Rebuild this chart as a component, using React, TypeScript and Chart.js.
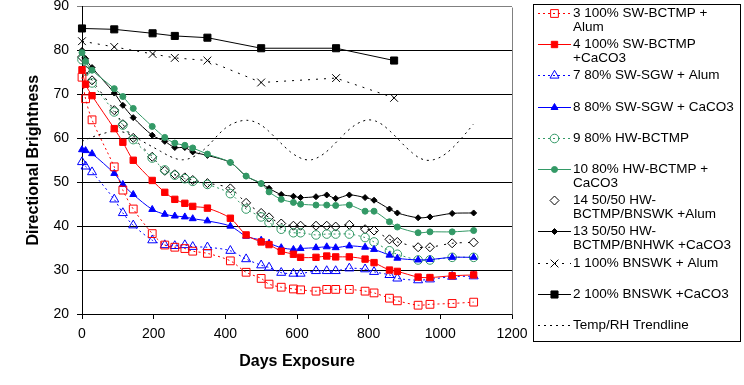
import React, { useEffect, useRef } from 'react';
import { Chart, registerables } from 'chart.js';

Chart.register(...registerables);

// Shared exposure days for the 8 pulp series
const days = [0, 10, 28, 90, 114, 143, 196, 231, 259, 287, 309, 350, 414, 458, 500, 522, 556, 590, 610, 653, 683, 708, 746, 790, 815, 858, 880, 938, 971, 1033, 1093];

const s3 = [73.9, 69.0, 64.2, 53.5, 48.2, 43.9, 38.3, 35.7, 35.2, 34.9, 34.3, 33.8, 32.1, 29.5, 28.1, 26.8, 26.1, 25.7, 25.5, 25.2, 25.6, 25.6, 25.6, 25.2, 24.8, 23.6, 23.0, 22.0, 22.2, 22.4, 22.7];
const s4 = [75.6, 72.3, 69.7, 62.2, 59.1, 55.0, 50.4, 47.7, 46.1, 45.2, 44.5, 44.1, 41.8, 38.0, 36.4, 35.8, 34.3, 33.6, 32.9, 32.9, 33.2, 33.0, 33.0, 32.5, 31.7, 30.0, 29.7, 28.4, 28.3, 28.7, 28.9];
const s7 = [54.6, 53.6, 52.3, 46.1, 43.0, 40.2, 36.8, 35.7, 35.5, 35.7, 35.3, 35.2, 34.4, 32.5, 31.1, 30.6, 29.4, 29.2, 29.2, 29.8, 29.8, 29.8, 30.4, 30.2, 29.6, 28.9, 28.1, 27.7, 27.9, 28.5, 28.6];
const s8 = [57.4, 57.2, 56.5, 52.0, 49.5, 47.2, 43.8, 42.7, 42.3, 42.1, 41.7, 41.2, 40.0, 37.7, 36.8, 36.1, 35.1, 34.7, 34.9, 35.1, 35.3, 35.1, 35.5, 35.2, 34.7, 33.4, 32.7, 32.3, 32.4, 32.9, 32.9];
const s9 = [77.9, 75.3, 72.6, 66.0, 63.0, 59.7, 55.5, 52.8, 51.6, 50.8, 50.2, 49.5, 47.4, 43.9, 42.1, 40.8, 39.3, 38.5, 38.5, 38.0, 38.2, 38.2, 38.2, 37.4, 36.4, 34.4, 33.6, 32.3, 32.3, 32.9, 32.9];
const s10 = [79.5, 77.5, 75.5, 71.3, 69.5, 66.8, 62.7, 60.2, 58.9, 58.4, 57.8, 56.4, 54.5, 51.4, 49.7, 47.8, 46.1, 45.4, 45.0, 44.8, 44.8, 44.7, 44.8, 43.4, 43.4, 41.0, 39.8, 38.5, 38.7, 38.7, 39.0];
const s14 = [78.5, 75.5, 73.2, 66.4, 63.2, 60.1, 55.8, 52.6, 51.8, 51.1, 50.5, 49.8, 48.6, 45.3, 43.0, 42.0, 40.6, 40.1, 40.1, 40.1, 40.1, 39.9, 40.3, 39.3, 39.0, 37.0, 36.4, 35.2, 35.2, 36.1, 36.3];
const s13 = [80.0, 78.1, 76.1, 70.3, 67.5, 64.7, 60.7, 59.3, 57.9, 57.9, 56.9, 56.1, 54.5, 51.4, 49.7, 48.6, 47.2, 46.8, 46.5, 46.7, 47.1, 46.3, 47.1, 46.5, 45.9, 43.9, 43.0, 41.9, 42.1, 42.9, 43.0];

// BNSWK series
const daysBN = [0, 90, 197, 259, 350, 500, 709, 871];
const s1 = [82.1, 80.8, 79.2, 78.3, 77.7, 72.7, 73.7, 69.2];
const s2 = [85.0, 84.8, 83.9, 83.3, 82.9, 80.5, 80.5, 77.7];

// Temp/RH trendline
const trendDays = [0, 20, 40, 60, 80, 100, 120, 140, 160, 180, 200, 220, 240, 260, 280, 300, 320, 340, 360, 380, 400, 420, 440, 460, 480, 500, 520, 540, 560, 580, 600, 620, 640, 660, 680, 700, 720, 740, 760, 780, 800, 820, 840, 860, 880, 900, 920, 940, 960, 980, 1000, 1020, 1040, 1060, 1080, 1092];
const trendVals = [59.3, 60.0, 60.6, 61.1, 61.5, 61.6, 61.3, 60.6, 59.7, 58.8, 57.9, 57.0, 56.1, 55.4, 55.1, 55.4, 56.2, 57.4, 59.0, 60.8, 62.3, 63.3, 63.9, 64.1, 63.8, 63.0, 61.7, 60.1, 58.5, 57.0, 55.9, 55.2, 55.1, 55.7, 56.8, 58.3, 60.0, 61.6, 62.9, 63.8, 64.2, 63.9, 63.0, 61.6, 60.0, 58.3, 56.8, 55.6, 55.0, 55.1, 55.7, 56.8, 58.3, 60.1, 62.0, 63.2];

const legendLabels = [
  ['3 100% SW-BCTMP +', 'Alum'],
  ['4 100% SW-BCTMP', '+CaCO3'],
  ['7 80% SW-SGW + Alum'],
  ['8 80% SW-SGW + CaCO3'],
  ['9 80% HW-BCTMP'],
  ['10 80% HW-BCTMP +', 'CaCO3'],
  ['14 50/50 HW-', 'BCTMP/BNSWK +Alum'],
  ['13 50/50 HW-', 'BCTMP/BNHWK +CaCO3'],
  ['1 100% BNSWK + Alum'],
  ['2 100% BNSWK +CaCO3'],
  ['Temp/RH Trendline'],
];

const RED = '#FF0000';
const BLUE = '#0000FF';
const GREEN = '#339966';
const BLACK = '#000000';
const NONE = 'rgba(0,0,0,0)';
const FONT = '"Liberation Sans", Arial, sans-serif';

const pts = (xs: number[], ys: number[]) => xs.map((x, i) => ({ x, y: ys[i] }));

function drawMarker(ctx: CanvasRenderingContext2D, style: string, r: number, x: number, y: number, fill: string, stroke: string) {
  if (!style || r <= 0) return;
  ctx.beginPath();
  switch (style) {
    case 'rect': {
      const s = Math.SQRT1_2 * r;
      ctx.rect(x - s, y - s, 2 * s, 2 * s);
      break;
    }
    case 'triangle':
      ctx.moveTo(x, y - r);
      ctx.lineTo(x + 0.866 * r, y + 0.5 * r);
      ctx.lineTo(x - 0.866 * r, y + 0.5 * r);
      ctx.closePath();
      break;
    case 'circle':
      ctx.arc(x, y, r, 0, Math.PI * 2);
      break;
    case 'rectRot':
      ctx.moveTo(x - r, y);
      ctx.lineTo(x, y - r);
      ctx.lineTo(x + r, y);
      ctx.lineTo(x, y + r);
      ctx.closePath();
      break;
    case 'crossRot': {
      const s = Math.SQRT1_2 * r;
      ctx.moveTo(x - s, y - s);
      ctx.lineTo(x + s, y + s);
      ctx.moveTo(x + s, y - s);
      ctx.lineTo(x - s, y + s);
      break;
    }
  }
  if (style !== 'crossRot') {
    ctx.fillStyle = fill;
    ctx.fill();
  }
  ctx.setLineDash([]);
  ctx.strokeStyle = stroke;
  ctx.lineWidth = 1;
  ctx.stroke();
}

const frameAndLegend = {
  id: 'frameAndLegend',
  afterDatasetsDraw(chart: any) {
    const { ctx, chartArea } = chart;
    ctx.save();
    ctx.strokeStyle = '#808080';
    ctx.lineWidth = 1;
    ctx.beginPath();
    const rx = Math.round(chartArea.right) + 0.5;
    ctx.moveTo(rx, Math.round(chartArea.top) + 0.5);
    ctx.lineTo(rx, Math.round(chartArea.bottom) + 0.5);
    ctx.stroke();
    ctx.restore();
  },
  afterDraw(chart: any) {
    const ctx: CanvasRenderingContext2D = chart.ctx;
    ctx.save();
    ctx.setLineDash([]);
    ctx.strokeStyle = BLACK;
    ctx.lineWidth = 1;
    ctx.strokeRect(533.5, 4.5, 207, 337);
    ctx.font = '13.5px ' + FONT;
    ctx.textBaseline = 'middle';
    ctx.textAlign = 'left';
    chart.data.datasets.forEach((ds: any, i: number) => {
      const y = Math.round(13 + i * 31.2) + 0.5;
      if (ds.legendLine !== false) {
        ctx.beginPath();
        ctx.setLineDash(ds.borderDash || []);
        ctx.strokeStyle = ds.borderColor;
        ctx.lineWidth = 1;
        ctx.moveTo(538, y);
        ctx.lineTo(571, y);
        ctx.stroke();
      }
      drawMarker(ctx, ds.pointStyle, ds.pointRadius, 554.5, y, ds.pointBackgroundColor, ds.pointBorderColor);
      ctx.fillStyle = BLACK;
      (ds.legendText as string[]).forEach((t, j) => ctx.fillText(t, 573, y + j * 13.5));
    });
    ctx.restore();
  },
};

function makeSet(label: string[], data: any[], color: string, dash: number[], style: string, radius: number, filled: boolean, tension: number, extra: any = {}) {
  return {
    label: label.join(' '),
    legendText: label,
    data,
    borderColor: color,
    borderWidth: 1,
    borderDash: dash,
    pointStyle: style,
    pointRadius: radius,
    pointHoverRadius: radius,
    pointBorderWidth: 1,
    pointBorderColor: color,
    pointBackgroundColor: filled ? color : NONE,
    backgroundColor: NONE,
    fill: false,
    tension,
    clip: false,
    ...extra,
  };
}

export default function App() {
  const ref = useRef<HTMLCanvasElement | null>(null);

  useEffect(() => {
    document.body.style.margin = '0';
    if (!ref.current) return;
    const datasets = [
      makeSet(legendLabels[0], pts(days, s3), RED, [2, 3], 'rect', 5.5, false, 0.3),
      makeSet(legendLabels[1], pts(days, s4), RED, [], 'rect', 4.5, true, 0.3),
      makeSet(legendLabels[2], pts(days, s7), BLUE, [2, 3], 'triangle', 5.2, false, 0.3),
      makeSet(legendLabels[3], pts(days, s8), BLUE, [], 'triangle', 4, true, 0.3),
      makeSet(legendLabels[4], pts(days, s9), GREEN, [2, 3], 'circle', 4.3, false, 0.3),
      makeSet(legendLabels[5], pts(days, s10), GREEN, [], 'circle', 3, true, 0.3),
      makeSet(legendLabels[6], pts(days, s14), BLACK, [2, 6], 'rectRot', 4.5, false, 0.3, { legendLine: false }),
      makeSet(legendLabels[7], pts(days, s13), BLACK, [], 'rectRot', 3, true, 0.3),
      makeSet(legendLabels[8], pts(daysBN, s1), BLACK, [2, 6], 'crossRot', 5.5, false, 0),
      makeSet(legendLabels[9], pts(daysBN, s2), BLACK, [], 'rect', 5, true, 0),
      makeSet(legendLabels[10], pts(trendDays, trendVals), BLACK, [2, 4], 'circle', 0, false, 0.3),
    ];

    const chart = new Chart(ref.current, {
      type: 'line',
      data: { datasets },
      plugins: [frameAndLegend],
      options: {
        responsive: false,
        animation: false,
        devicePixelRatio: 1,
        events: [],
        layout: { padding: { left: 0, top: 6, right: 232, bottom: 0 } },
        plugins: {
          legend: { display: false },
          tooltip: { enabled: false },
        },
        scales: {
          x: {
            type: 'linear',
            min: 0,
            max: 1200,
            ticks: {
              stepSize: 200,
              color: BLACK,
              padding: 7,
              font: { family: FONT, size: 14 },
              callback: (v: any) => String(v),
            },
            grid: { drawOnChartArea: false, drawTicks: true, tickLength: 5, color: BLACK, lineWidth: 1 },
            border: { color: BLACK, width: 1 },
            title: {
              display: true,
              text: 'Days Exposure',
              color: BLACK,
              font: { family: FONT, size: 16, weight: 'bold' },
              padding: { top: 0, bottom: 14 },
            },
            afterFit: (s: any) => { s.height = 71; s.paddingLeft = 0; s.paddingRight = 0; },
          },
          y: {
            min: 20,
            max: 90,
            ticks: { stepSize: 10, color: BLACK, padding: 8, font: { family: FONT, size: 14 }, callback: (v: any) => String(v) },
            grid: {
              drawTicks: true,
              tickLength: 5,
              lineWidth: 1,
              color: (c: any) => (c.tick && c.tick.value === 90 ? '#808080' : BLACK),
            },
            border: { color: BLACK, width: 1 },
            title: {
              display: true,
              text: 'Directional Brightness',
              color: BLACK,
              font: { family: FONT, size: 16, weight: 'bold' },
              padding: { top: 24, bottom: 0 },
            },
            afterFit: (s: any) => { s.width = 82; s.paddingTop = 0; s.paddingBottom = 0; },
          },
        },
      } as any,
    });
    return () => chart.destroy();
  }, []);

  return (
    <div style={{ width: 744, height: 385, position: 'relative', background: '#fff' }}>
      <canvas ref={ref} width={744} height={385} style={{ display: 'block' }} />
    </div>
  );
}
